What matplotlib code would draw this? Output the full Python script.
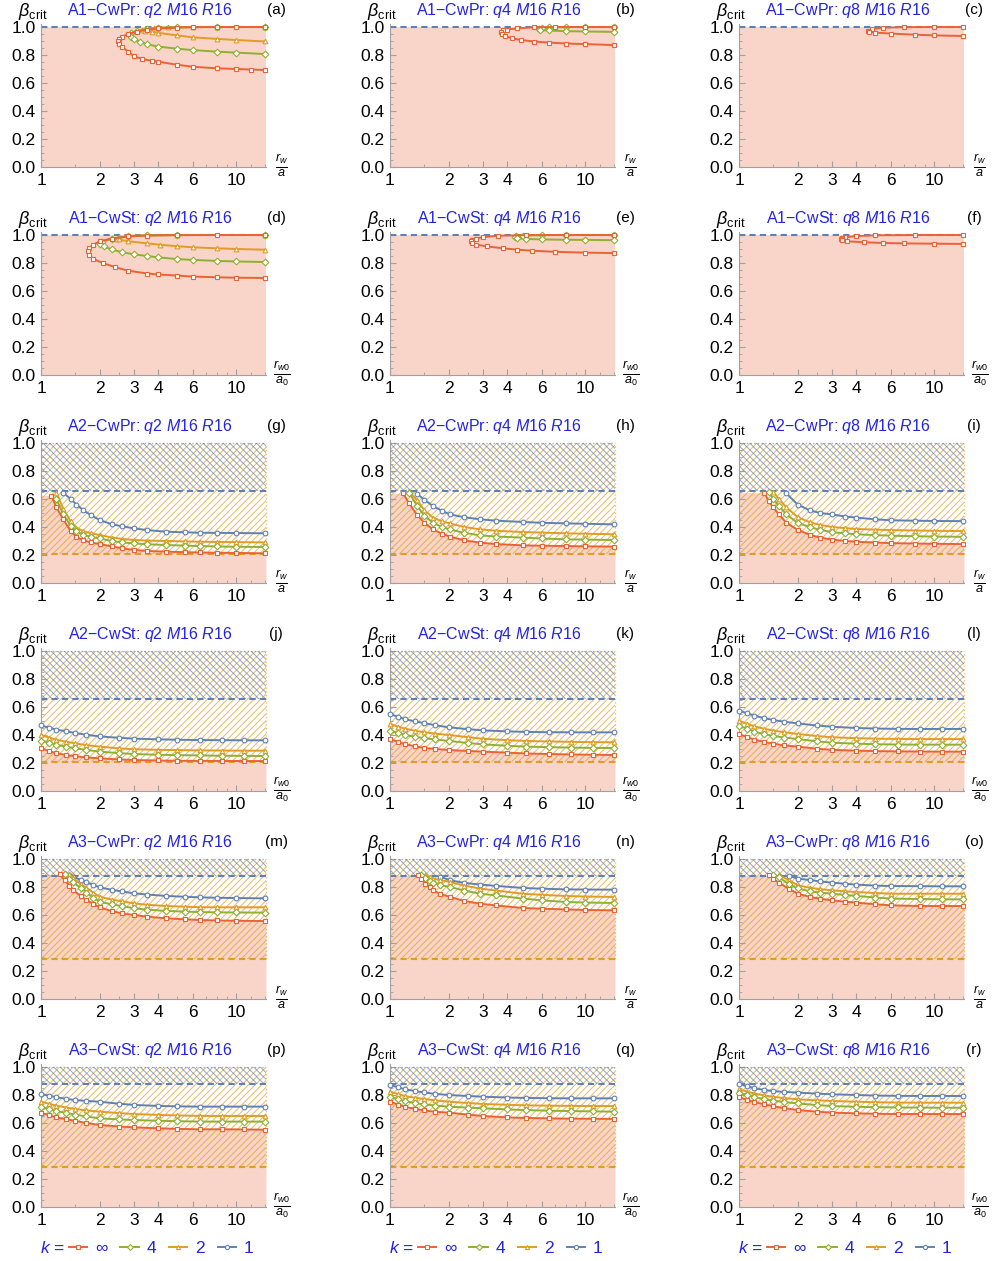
import numpy as np
import matplotlib
matplotlib.use('Agg')
import matplotlib.pyplot as plt
from matplotlib.lines import Line2D
from matplotlib.ticker import NullFormatter

plt.rcParams['font.family'] = ['Liberation Sans', 'DejaVu Sans']
plt.rcParams['mathtext.fontset'] = 'custom'
plt.rcParams['mathtext.rm'] = 'Liberation Sans'
plt.rcParams['mathtext.it'] = 'Liberation Sans:italic'
plt.rcParams['mathtext.bf'] = 'Liberation Sans:bold'
plt.rcParams['hatch.linewidth'] = 0.7

nan = np.nan

RED = '#EB6235'
GREEN = '#8FB032'
ORANGE = '#E19C24'
BLUE = '#5E81B5'
TXT_BLUE = '#2424E0'

# ---- A1 panels: loop-shaped curves (upper branch -> nose -> lower branch)
a_inf_x = [14, 10, 8, 6, 5, 4, 3.5, 3.1, 2.8, 2.6, 2.5, 2.48, 2.52, 2.6, 2.8, 3.0, 3.3, 3.7, 4.0, 5.0, 6.0, 8.0, 10, 12, 14]
a_inf_y = [1.0, 1.0, 1.0, 0.999, 0.996, 0.99, 0.98, 0.966, 0.95, 0.93, 0.915, 0.9, 0.88, 0.859, 0.824, 0.79, 0.772, 0.758, 0.752, 0.73, 0.716, 0.705, 0.70, 0.696, 0.693]
a_k4_x = [14, 8, 5, 4, 3.5, 3.1, 2.9, 2.85, 2.9, 3.0, 3.2, 3.5, 4.0, 5.0, 6.0, 8.0, 10, 14]
a_k4_y = [1.0, 1.0, 0.998, 0.995, 0.986, 0.972, 0.958, 0.945, 0.93, 0.915, 0.895, 0.876, 0.86, 0.845, 0.835, 0.824, 0.817, 0.807]
a_k2_x = [14, 8, 6, 4.5, 3.8, 3.4, 3.3, 3.4, 3.7, 4.0, 5.0, 6.0, 8.0, 10, 14]
a_k2_y = [1.0, 1.0, 1.0, 0.997, 0.992, 0.985, 0.978, 0.972, 0.966, 0.958, 0.94, 0.926, 0.915, 0.907, 0.897]

b_inf_x = [14, 10, 7, 5.5, 4.5, 4.0, 3.8, 3.72, 3.75, 3.9, 4.2, 4.7, 5.5, 6.5, 8.0, 10, 14]
b_inf_y = [1.0, 1.0, 1.0, 0.998, 0.99, 0.982, 0.975, 0.962, 0.95, 0.935, 0.92, 0.907, 0.896, 0.889, 0.882, 0.878, 0.871]
b_k4_x = [14, 10, 8, 6.5, 6.0, 5.8, 5.9, 6.5, 8.0, 10, 14]
b_k4_y = [1.0, 1.0, 1.0, 0.997, 0.993, 0.985, 0.979, 0.975, 0.97, 0.968, 0.965]

c_inf_x = [14, 10, 7, 5.5, 4.8, 4.6, 4.65, 5.0, 6.0, 8.0, 10, 14]
c_inf_y = [1.0, 1.0, 0.999, 0.995, 0.985, 0.974, 0.965, 0.96, 0.953, 0.945, 0.94, 0.936]

d_inf_x = [14, 8, 5, 3.5, 2.8, 2.3, 2.0, 1.85, 1.76, 1.74, 1.76, 1.85, 2.07, 2.4, 2.8, 3.5, 4.0, 5.0, 6.0, 8.0, 10, 14]
d_inf_y = [1.0, 1.0, 0.999, 0.996, 0.99, 0.975, 0.955, 0.93, 0.905, 0.884, 0.86, 0.83, 0.80, 0.77, 0.745, 0.725, 0.718, 0.71, 0.703, 0.698, 0.695, 0.693]
d_k4_x = [14, 5, 3.5, 2.8, 2.3, 2.05, 2.0, 2.1, 2.3, 2.6, 3.0, 3.5, 4.0, 5.0, 6.0, 8.0, 10, 14]
d_k4_y = [1.0, 1.0, 0.998, 0.99, 0.97, 0.952, 0.935, 0.918, 0.897, 0.877, 0.862, 0.85, 0.84, 0.828, 0.822, 0.815, 0.811, 0.807]
d_k2_x = [14, 5, 3.5, 2.8, 2.5, 2.45, 2.5, 2.8, 3.5, 4.1, 5.0, 6.0, 8.0, 10, 14]
d_k2_y = [1.0, 1.0, 0.999, 0.993, 0.984, 0.975, 0.968, 0.955, 0.94, 0.93, 0.92, 0.912, 0.905, 0.9, 0.895]

e_inf_x = [14, 8, 5, 3.6, 3.0, 2.75, 2.62, 2.6, 2.62, 2.75, 3.16, 3.8, 4.5, 5.35, 7.0, 10, 14]
e_inf_y = [1.0, 1.0, 0.999, 0.995, 0.985, 0.972, 0.962, 0.955, 0.945, 0.932, 0.918, 0.905, 0.895, 0.888, 0.88, 0.874, 0.871]
e_k4_x = [14, 8, 6, 4.8, 4.45, 4.4, 4.5, 5.0, 6.0, 8.0, 10, 14]
e_k4_y = [1.0, 1.0, 1.0, 0.995, 0.99, 0.984, 0.978, 0.972, 0.968, 0.966, 0.965, 0.963]

f_inf_x = [14, 8, 5, 4, 3.5, 3.36, 3.34, 3.36, 3.6, 4.4, 5.5, 7.0, 10, 14]
f_inf_y = [1.0, 1.0, 0.998, 0.992, 0.984, 0.977, 0.97, 0.962, 0.955, 0.948, 0.943, 0.94, 0.938, 0.936]

# ---- A2 / A3, CwPr: each panel has its own grid starting at the nose
x_g = [1.13, 1.2, 1.3, 1.42, 1.52, 1.65, 1.8, 2.0, 2.3, 2.6, 3.0, 3.5, 4.4, 5.5, 6.5, 8, 10, 14]
g_inf = [0.625, 0.54, 0.455, 0.37, 0.33, 0.305, 0.29, 0.278, 0.262, 0.248, 0.236, 0.229, 0.224, 0.22, 0.218, 0.216, 0.215, 0.212]
g_k4 = [nan, 0.6, 0.49, 0.41, 0.368, 0.345, 0.33, 0.319, 0.3, 0.29, 0.283, 0.277, 0.271, 0.267, 0.264, 0.261, 0.259, 0.257]
g_k2 = [nan, 0.645, 0.53, 0.44, 0.395, 0.37, 0.355, 0.343, 0.325, 0.315, 0.307, 0.303, 0.3, 0.297, 0.295, 0.293, 0.292, 0.29]
g_k1 = [nan, nan, 0.645, 0.6, 0.56, 0.52, 0.485, 0.45, 0.42, 0.405, 0.39, 0.378, 0.366, 0.362, 0.359, 0.358, 0.357, 0.355]

x_h = [1.17, 1.25, 1.38, 1.5, 1.66, 1.85, 2.03, 2.4, 2.9, 3.5, 4.8, 6, 7.95, 10, 14]
h_inf = [0.64, 0.57, 0.485, 0.43, 0.383, 0.352, 0.331, 0.305, 0.288, 0.278, 0.269, 0.266, 0.264, 0.262, 0.26]
h_k4 = [nan, 0.645, 0.55, 0.48, 0.43, 0.40, 0.383, 0.358, 0.34, 0.332, 0.324, 0.318, 0.312, 0.31, 0.307]
h_k2 = [nan, 0.655, 0.59, 0.52, 0.467, 0.44, 0.426, 0.40, 0.383, 0.373, 0.364, 0.36, 0.355, 0.352, 0.348]
h_k1 = [nan, nan, 0.635, 0.595, 0.55, 0.515, 0.49, 0.47, 0.455, 0.445, 0.436, 0.43, 0.426, 0.423, 0.419]

x_i = [1.35, 1.42, 1.5, 1.6, 1.75, 2.0, 2.3, 2.6, 3.0, 3.5, 4, 5, 6, 8, 10, 14]
i_inf = [0.645, 0.585, 0.54, 0.49, 0.43, 0.38, 0.345, 0.325, 0.31, 0.30, 0.295, 0.289, 0.285, 0.282, 0.28, 0.278]
i_k4 = [nan, 0.65, 0.60, 0.55, 0.49, 0.43, 0.40, 0.38, 0.363, 0.355, 0.348, 0.342, 0.338, 0.334, 0.332, 0.33]
i_k2 = [nan, nan, 0.65, 0.60, 0.54, 0.47, 0.435, 0.415, 0.40, 0.392, 0.386, 0.381, 0.378, 0.375, 0.373, 0.371]
i_k1 = [nan, nan, nan, nan, 0.64, 0.56, 0.52, 0.50, 0.49, 0.475, 0.467, 0.455, 0.448, 0.445, 0.443, 0.442]

x_m = [1.25, 1.32, 1.4, 1.46, 1.6, 1.71, 1.85, 2.0, 2.3, 2.6, 3.0, 3.5, 4.4, 5.5, 6.5, 8, 10, 14]
m_inf = [0.89, 0.85, 0.81, 0.779, 0.735, 0.707, 0.68, 0.655, 0.628, 0.612, 0.60, 0.588, 0.576, 0.569, 0.564, 0.561, 0.559, 0.557]
m_k4 = [nan, 0.89, 0.855, 0.835, 0.79, 0.76, 0.725, 0.695, 0.676, 0.664, 0.648, 0.638, 0.629, 0.624, 0.621, 0.619, 0.618, 0.617]
m_k2 = [nan, nan, 0.89, 0.865, 0.82, 0.795, 0.76, 0.731, 0.71, 0.698, 0.683, 0.673, 0.664, 0.659, 0.656, 0.655, 0.655, 0.655]
m_k1 = [nan, 0.89, 0.885, 0.875, 0.85, 0.835, 0.815, 0.798, 0.78, 0.768, 0.755, 0.746, 0.736, 0.73, 0.726, 0.723, 0.721, 0.719]

x_n = [1.39, 1.45, 1.52, 1.6, 1.66, 1.8, 2.03, 2.4, 2.9, 3.5, 4.8, 6, 7.95, 10, 14]
n_inf = [0.883, 0.855, 0.825, 0.8, 0.776, 0.752, 0.729, 0.70, 0.681, 0.668, 0.65, 0.645, 0.64, 0.636, 0.633]
n_k4 = [nan, 0.885, 0.865, 0.845, 0.83, 0.815, 0.80, 0.775, 0.752, 0.74, 0.717, 0.705, 0.693, 0.689, 0.686]
n_k2 = [nan, nan, 0.885, 0.87, 0.86, 0.85, 0.836, 0.81, 0.788, 0.775, 0.752, 0.744, 0.736, 0.732, 0.729]
n_k1 = [nan, nan, nan, nan, nan, 0.875, 0.848, 0.83, 0.817, 0.808, 0.793, 0.788, 0.783, 0.782, 0.781]

x_o = [1.43, 1.5, 1.6, 1.8, 2.0, 2.3, 2.6, 3.0, 3.5, 4.0, 5.0, 6.0, 8.5, 11, 14]
o_inf = [0.883, 0.86, 0.83, 0.788, 0.752, 0.73, 0.716, 0.705, 0.695, 0.688, 0.677, 0.669, 0.664, 0.664, 0.664]
o_k4 = [nan, 0.885, 0.87, 0.82, 0.79, 0.77, 0.76, 0.752, 0.743, 0.736, 0.725, 0.717, 0.714, 0.712, 0.712]
o_k2 = [nan, nan, 0.885, 0.85, 0.812, 0.795, 0.785, 0.776, 0.769, 0.764, 0.757, 0.752, 0.752, 0.752, 0.752]
o_k1 = [nan, nan, nan, 0.88, 0.86, 0.85, 0.84, 0.831, 0.823, 0.817, 0.81, 0.807, 0.806, 0.805, 0.805]

# ---- A2 / A3, CwSt: common grid starting at r_w0/a_0 = 1
x_st = [1.0, 1.1, 1.2, 1.35, 1.5, 1.7, 2.0, 2.5, 3.0, 4.0, 5.0, 6.5, 8.5, 11, 14]
j_inf = [0.305, 0.285, 0.27, 0.257, 0.248, 0.24, 0.233, 0.226, 0.221, 0.218, 0.216, 0.215, 0.215, 0.214, 0.214]
j_k4 = [0.36, 0.345, 0.33, 0.317, 0.305, 0.294, 0.281, 0.271, 0.264, 0.259, 0.256, 0.254, 0.252, 0.251, 0.25]
j_k2 = [0.40, 0.382, 0.366, 0.352, 0.34, 0.328, 0.317, 0.305, 0.298, 0.294, 0.292, 0.29, 0.289, 0.288, 0.288]
j_k1 = [0.469, 0.452, 0.438, 0.426, 0.414, 0.402, 0.39, 0.38, 0.374, 0.369, 0.366, 0.364, 0.363, 0.362, 0.362]

k_inf = [0.371, 0.35, 0.335, 0.318, 0.308, 0.3, 0.293, 0.286, 0.281, 0.274, 0.268, 0.264, 0.261, 0.259, 0.257]
k_k4 = [0.431, 0.415, 0.4, 0.387, 0.377, 0.368, 0.358, 0.343, 0.333, 0.323, 0.317, 0.313, 0.31, 0.308, 0.307]
k_k2 = [0.479, 0.46, 0.445, 0.43, 0.42, 0.41, 0.4, 0.385, 0.373, 0.363, 0.357, 0.354, 0.351, 0.349, 0.348]
k_k1 = [0.55, 0.53, 0.512, 0.497, 0.485, 0.47, 0.455, 0.442, 0.433, 0.426, 0.422, 0.42, 0.419, 0.419, 0.419]

l_inf = [0.407, 0.385, 0.367, 0.35, 0.338, 0.326, 0.317, 0.302, 0.294, 0.288, 0.285, 0.283, 0.282, 0.281, 0.281]
l_k4 = [0.467, 0.445, 0.425, 0.405, 0.393, 0.382, 0.371, 0.355, 0.345, 0.338, 0.334, 0.332, 0.331, 0.331, 0.331]
l_k2 = [0.502, 0.48, 0.462, 0.444, 0.432, 0.42, 0.407, 0.393, 0.384, 0.377, 0.374, 0.372, 0.371, 0.371, 0.371]
l_k1 = [0.574, 0.555, 0.538, 0.52, 0.507, 0.495, 0.483, 0.468, 0.459, 0.45, 0.446, 0.444, 0.443, 0.443, 0.443]

p_inf = [0.674, 0.655, 0.64, 0.627, 0.615, 0.6, 0.586, 0.575, 0.569, 0.562, 0.558, 0.555, 0.555, 0.554, 0.552]
p_k4 = [0.717, 0.7, 0.686, 0.672, 0.66, 0.647, 0.633, 0.626, 0.621, 0.616, 0.613, 0.61, 0.61, 0.61, 0.61]
p_k2 = [0.752, 0.737, 0.724, 0.71, 0.7, 0.69, 0.681, 0.671, 0.664, 0.658, 0.654, 0.651, 0.65, 0.65, 0.65]
p_k1 = [0.807, 0.795, 0.784, 0.772, 0.764, 0.758, 0.752, 0.738, 0.729, 0.722, 0.719, 0.717, 0.717, 0.717, 0.717]

q_inf = [0.752, 0.732, 0.715, 0.7, 0.69, 0.68, 0.674, 0.66, 0.65, 0.64, 0.636, 0.633, 0.631, 0.63, 0.629]
q_k4 = [0.788, 0.77, 0.755, 0.742, 0.733, 0.725, 0.717, 0.71, 0.705, 0.697, 0.692, 0.688, 0.685, 0.683, 0.681]
q_k2 = [0.824, 0.806, 0.792, 0.78, 0.771, 0.762, 0.752, 0.743, 0.736, 0.73, 0.726, 0.724, 0.722, 0.721, 0.721]
q_k1 = [0.871, 0.855, 0.84, 0.828, 0.818, 0.808, 0.8, 0.793, 0.788, 0.782, 0.779, 0.777, 0.776, 0.776, 0.776]

r_inf = [0.783, 0.765, 0.75, 0.733, 0.72, 0.706, 0.693, 0.681, 0.674, 0.669, 0.666, 0.664, 0.664, 0.664, 0.664]
r_k4 = [0.817, 0.8, 0.785, 0.77, 0.76, 0.75, 0.74, 0.728, 0.721, 0.716, 0.713, 0.711, 0.71, 0.709, 0.709]
r_k2 = [0.84, 0.825, 0.81, 0.797, 0.787, 0.778, 0.769, 0.762, 0.757, 0.752, 0.748, 0.746, 0.745, 0.745, 0.745]
r_k1 = [0.879, 0.862, 0.848, 0.836, 0.828, 0.822, 0.817, 0.81, 0.805, 0.8, 0.796, 0.794, 0.793, 0.793, 0.793]

# stability limits (lower: orange, upper: blue)
A2_limits = (0.21, 0.657)
A3_limits = (0.285, 0.88)

k_order = ['k1', 'k2', 'k4', 'inf']
k_style = {'inf': (RED, 's'), 'k4': (GREEN, 'D'), 'k2': (ORANGE, '^'), 'k1': (BLUE, 'o')}
k_labels = {'inf': '∞', 'k4': '4', 'k2': '2', 'k1': '1'}


def pr(xs, *ys):
    return {k: (xs, y) for k, y in zip(['inf', 'k4', 'k2', 'k1'], ys)}


panels = [
    ('a', 'A1', 'CwPr', 2, None, {'inf': (a_inf_x, a_inf_y), 'k4': (a_k4_x, a_k4_y), 'k2': (a_k2_x, a_k2_y)}),
    ('b', 'A1', 'CwPr', 4, None, {'inf': (b_inf_x, b_inf_y), 'k4': (b_k4_x, b_k4_y)}),
    ('c', 'A1', 'CwPr', 8, None, {'inf': (c_inf_x, c_inf_y)}),
    ('d', 'A1', 'CwSt', 2, None, {'inf': (d_inf_x, d_inf_y), 'k4': (d_k4_x, d_k4_y), 'k2': (d_k2_x, d_k2_y)}),
    ('e', 'A1', 'CwSt', 4, None, {'inf': (e_inf_x, e_inf_y), 'k4': (e_k4_x, e_k4_y)}),
    ('f', 'A1', 'CwSt', 8, None, {'inf': (f_inf_x, f_inf_y)}),
    ('g', 'A2', 'CwPr', 2, A2_limits, pr(x_g, g_inf, g_k4, g_k2, g_k1)),
    ('h', 'A2', 'CwPr', 4, A2_limits, pr(x_h, h_inf, h_k4, h_k2, h_k1)),
    ('i', 'A2', 'CwPr', 8, A2_limits, pr(x_i, i_inf, i_k4, i_k2, i_k1)),
    ('j', 'A2', 'CwSt', 2, A2_limits, pr(x_st, j_inf, j_k4, j_k2, j_k1)),
    ('k', 'A2', 'CwSt', 4, A2_limits, pr(x_st, k_inf, k_k4, k_k2, k_k1)),
    ('l', 'A2', 'CwSt', 8, A2_limits, pr(x_st, l_inf, l_k4, l_k2, l_k1)),
    ('m', 'A3', 'CwPr', 2, A3_limits, pr(x_m, m_inf, m_k4, m_k2, m_k1)),
    ('n', 'A3', 'CwPr', 4, A3_limits, pr(x_n, n_inf, n_k4, n_k2, n_k1)),
    ('o', 'A3', 'CwPr', 8, A3_limits, pr(x_o, o_inf, o_k4, o_k2, o_k1)),
    ('p', 'A3', 'CwSt', 2, A3_limits, pr(x_st, p_inf, p_k4, p_k2, p_k1)),
    ('q', 'A3', 'CwSt', 4, A3_limits, pr(x_st, q_inf, q_k4, q_k2, q_k1)),
    ('r', 'A3', 'CwSt', 8, A3_limits, pr(x_st, r_inf, r_k4, r_k2, r_k1)),
]

W, H = 1000, 1261
XMAX = 14.25
YTOP = 1.02
AXC = '#A0A0A0'
dash = (0, (3, 2))

fig = plt.figure(figsize=(W / 100, H / 100), dpi=100)


def fx(px):
    return px / W


def fy(py):
    return 1 - py / H


for i, (tag, model, case, q, lims, curves) in enumerate(panels):
    row, col = divmod(i, 3)
    left = 41 + 349 * col
    y0 = 167 + 208 * row
    ax = fig.add_axes([fx(left), fy(y0), 225 / W, 140 * YTOP / H])
    ax.set_xscale('log')
    ax.set_xlim(1, XMAX)
    ax.set_ylim(0, YTOP)
    ax.patch.set_alpha(0)

    if lims is None:
        ax.fill_between([1, XMAX], 0, 1.0, color=RED, alpha=0.27, lw=0)
        ax.plot([1, XMAX], [1.0, 1.0], color=BLUE, ls=dash, lw=1.5, clip_on=False)
    else:
        lo, hi = lims
        rx = np.array(curves['inf'][0], float)
        ry = np.array(curves['inf'][1], float)
        ok = ~np.isnan(ry)
        ex = np.concatenate([[1.0], rx[ok], [XMAX]])
        ey = np.concatenate([[ry[ok][0]], ry[ok], [ry[ok][-1]]])
        ax.fill_between(ex, 0, ey, color=RED, alpha=0.27, lw=0)
        ax.fill_between([1, XMAX], lo, 1.0, facecolor='none',
                        edgecolor=(0.88, 0.61, 0.14, 0.7), hatch='/////', lw=0)
        ax.fill_between([1, XMAX], hi, 1.0, facecolor='none',
                        edgecolor=(0.37, 0.51, 0.71, 0.7), hatch='\\\\\\\\\\', lw=0)
        ax.plot([1, XMAX], [1.0, 1.0], color=BLUE, ls=':', lw=1, alpha=0.6)
        ax.plot([XMAX, XMAX], [lo, 1.0], color=ORANGE, ls=':', lw=1, alpha=0.6, clip_on=False)
        ax.plot([1, XMAX], [hi, hi], color=BLUE, ls=dash, lw=1.5)
        ax.plot([1, XMAX], [lo, lo], color=ORANGE, ls=dash, lw=1.5)

    for k in k_order:
        if k not in curves:
            continue
        xs, ys = curves[k]
        c, m = k_style[k]
        ax.plot(xs, ys, color=c, lw=1.4, marker=m, ms=3.4, mfc='white',
                mec=c, mew=0.8, clip_on=False, zorder=5)

    ax.set_xticks([1, 2, 3, 4, 6, 10])
    ax.set_xticklabels(['1', '2', '3', '4', '6', '10'])
    ax.set_xticks([1.5, 2.5, 5, 7, 8, 9, 12, 14], minor=True)
    ax.xaxis.set_minor_formatter(NullFormatter())
    ax.set_yticks(np.arange(0, 1.01, 0.2))
    ax.set_yticklabels(['0.0', '0.2', '0.4', '0.6', '0.8', '1.0'])
    ax.set_yticks(np.arange(0, 1.001, 0.05), minor=True)
    for s in ['top', 'right']:
        ax.spines[s].set_visible(False)
    for s in ['left', 'bottom']:
        ax.spines[s].set_color(AXC)
    ax.tick_params(which='both', direction='in', color=AXC, labelsize=12.5)
    ax.tick_params(axis='y', which='major', length=4, pad=4)
    ax.tick_params(axis='x', which='major', length=4, pad=4)
    ax.tick_params(which='minor', length=2)

    fig.text(fx(left - 8), fy(y0 - 155), r'$\beta_{\mathrm{crit}}$', fontsize=13,
             ha='center', va='center')
    fig.text(fx(left + 109), fy(y0 - 157),
             model + '−' + case + ': ' + r'$q$' + str(q) + r' $M$16 $R$16',
             color=TXT_BLUE, fontsize=11.5, ha='center', va='center')
    fig.text(fx(left + 235), fy(y0 - 157), '(' + tag + ')', fontsize=11,
             ha='center', va='center')
    if case == 'CwPr':
        xl = r'$\frac{r_w}{a}$'
    else:
        xl = r'$\frac{r_{w0}}{a_0}$'
    fig.text(fx(left + 241), fy(y0 - 1), xl, fontsize=13, ha='center', va='center')

# legend row under each column
handles = [Line2D([], [], color=k_style[k][0], marker=k_style[k][1], ms=3, mfc='white',
                  mec=k_style[k][0], mew=0.8, lw=1.4) for k in ['inf', 'k4', 'k2', 'k1']]
labels = [k_labels[k] for k in ['inf', 'k4', 'k2', 'k1']]
for col in range(3):
    fig.text(fx(52 + 349 * col), fy(1248), r'$k$ =', color=TXT_BLUE, fontsize=12.5,
             ha='center', va='center')
    fig.legend(handles, labels, loc='center left',
               bbox_to_anchor=(fx(69 + 349 * col), fy(1248)), ncol=4, frameon=False,
               labelcolor=TXT_BLUE, fontsize=12.5, handlelength=1.05, handletextpad=0.45,
               columnspacing=0.75, borderpad=0, borderaxespad=0)

fig.savefig('out.png', dpi=100)
